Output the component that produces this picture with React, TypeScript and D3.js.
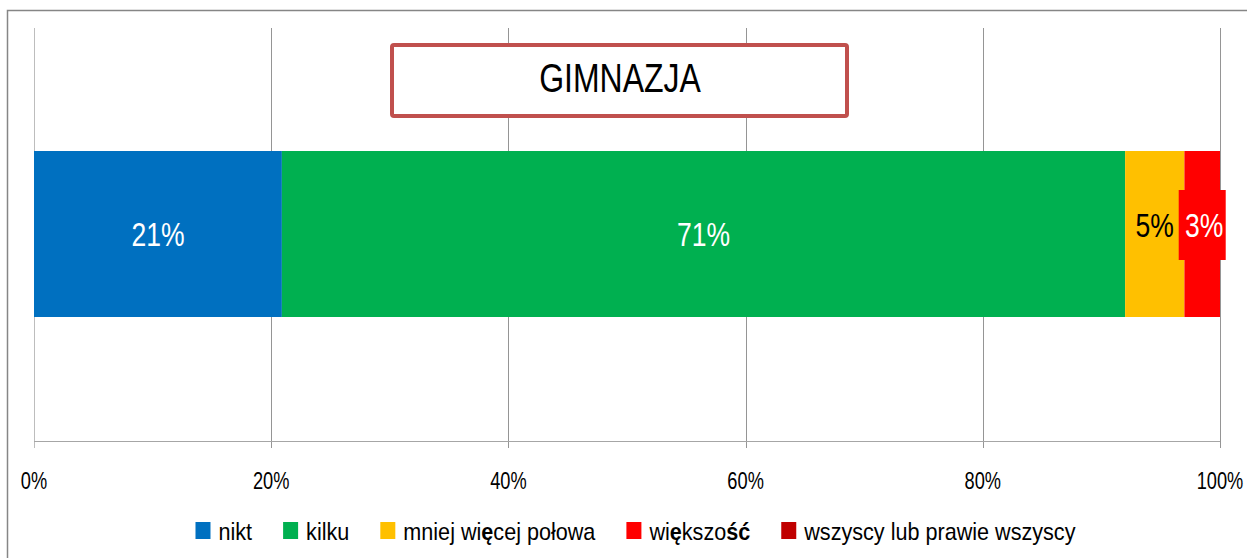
import React, { useMemo } from 'react';
import * as d3 from 'd3';

const categories = ['GIMNAZJA'];
const seriesNames = ['nikt', 'kilku', 'mniej więcej połowa', 'większość', 'wszyscy lub prawie wszyscy'];
const seriesValues = [20.9, 71.1, 5.0, 3.0, 0];
const seriesLabels = ['21%', '71%', '5%', '3%', ''];
const seriesColors = ['#0070C0', '#00B050', '#FFC000', '#FF0000', '#C00000'];
const tickValues = [0, 20, 40, 60, 80, 100];
const tickLabels = ['0%', '20%', '40%', '60%', '80%', '100%'];

const W = 1247;
const H = 558;
const FONT = '"Liberation Sans", Arial, sans-serif';
const BOLD_CHARS = 'ęśćąźżńó';

function splitBold(s: string) {
  const parts: { t: string; b: boolean }[] = [];
  for (const ch of s) {
    const b = BOLD_CHARS.includes(ch);
    const last = parts[parts.length - 1];
    if (last && last.b === b) last.t += ch;
    else parts.push({ t: ch, b });
  }
  return parts;
}

function Txt({ x, y, sx, size, anchor, fill, children }: any) {
  return (
    <g transform={`translate(${x},${y}) scale(${sx},1)`}>
      <text textAnchor={anchor} fontFamily={FONT} fontSize={size} fill={fill}>
        {children}
      </text>
    </g>
  );
}

export default function App() {
  const x = d3.scaleLinear().domain([0, 100]).range([34, 1220]);
  const row: any = { cat: categories[0] };
  seriesNames.forEach((n, i) => (row[n] = seriesValues[i]));
  const stacked = d3.stack().keys(seriesNames)([row]);

  const barTop = 151;
  const barBottom = 317;

  const legendScale = 0.9;
  const legendSize = 24;
  const legend = useMemo(() => {
    const canvas = document.createElement('canvas');
    const ctx = canvas.getContext('2d')!;
    const widths = seriesNames.map((n) => {
      let w = 0;
      for (const p of splitBold(n)) {
        ctx.font = `${p.b ? 'bold ' : ''}${legendSize}px ${FONT}`;
        w += ctx.measureText(p.t).width;
      }
      return w * legendScale;
    });
    const sw = 15, gap1 = 8, gap2 = 31;
    const total = widths.reduce((a, w) => a + sw + gap1 + w, 0) + gap2 * (widths.length - 1);
    let cx = 635.5 - total / 2;
    return widths.map((w) => {
      const item = { sx: cx, tx: cx + sw + gap1 };
      cx += sw + gap1 + w + gap2;
      return item;
    });
  }, []);

  const labelColors = ['#ffffff', '#ffffff', '#000000', '#ffffff', '#ffffff'];
  const labelDy = [0, 0, -9, -9, 0];

  return (
    <svg width={W} height={H} style={{ position: 'absolute', left: 0, top: 0 }}>
      <rect x={0} y={0} width={W} height={H} fill="#ffffff" />
      <rect x={7.5} y={10.5} width={1260} height={570} fill="#ffffff" stroke="#868686" strokeWidth={1.5} />
      {tickValues.map((t, i) => (
        <line key={'g' + t} x1={Math.round(x(t)) + 0.5} x2={Math.round(x(t)) + 0.5} y1={28} y2={448}
          stroke={i === 0 ? '#bdbdbd' : '#959595'} strokeWidth={1} />
      ))}
      <line x1={x(0)} x2={x(100)} y1={441.5} y2={441.5} stroke="#a6a6a6" strokeWidth={1} />
      {stacked.map((s, i) => {
        const d = s[0];
        const x0 = x(d[0]);
        const x1 = x(d[1]);
        return (
          <rect key={'b' + i} x={x0} y={barTop} width={Math.max(0, x1 - x0)} height={barBottom - barTop}
            fill={seriesColors[i]} />
        );
      })}
      {stacked.map((s, i) => {
        const d = s[0];
        if (!seriesLabels[i]) return null;
        const cx = (x(d[0]) + x(d[1])) / 2;
        const cy = (barTop + barBottom) / 2 + labelDy[i];
        return (
          <g key={'l' + i}>
            {i === 3 && (
              <rect x={cx - 23.5} y={cy - 35} width={47} height={70} fill={seriesColors[i]} />
            )}
            <Txt x={i === 3 ? cx + 2 : cx} y={cy + 12} sx={0.78} size={34} anchor="middle" fill={labelColors[i]}>
              {seriesLabels[i]}
            </Txt>
          </g>
        );
      })}
      {tickValues.map((t, i) => (
        <Txt key={'t' + t} x={x(t)} y={489} sx={0.76} size={24} anchor="middle" fill="#000000">
          {tickLabels[i]}
        </Txt>
      ))}
      <rect x={392} y={45} width={455} height={71} rx={2} fill="#ffffff" stroke="#C0504D" strokeWidth={4} />
      <Txt x={620} y={92} sx={0.78} size={41} anchor="middle" fill="#000000">
        {categories[0]}
      </Txt>
      {seriesNames.map((n, i) => (
        <g key={'lg' + i}>
          <rect x={legend[i].sx} y={522} width={15} height={17} fill={seriesColors[i]} />
          <g transform={`translate(${legend[i].tx},540) scale(${legendScale},1)`}>
            <text fontFamily={FONT} fontSize={legendSize} fill="#000000">
              {splitBold(n).map((p, k) => (
                <tspan key={k} fontWeight={p.b ? 'bold' : 'normal'}>{p.t}</tspan>
              ))}
            </text>
          </g>
        </g>
      ))}
    </svg>
  );
}
